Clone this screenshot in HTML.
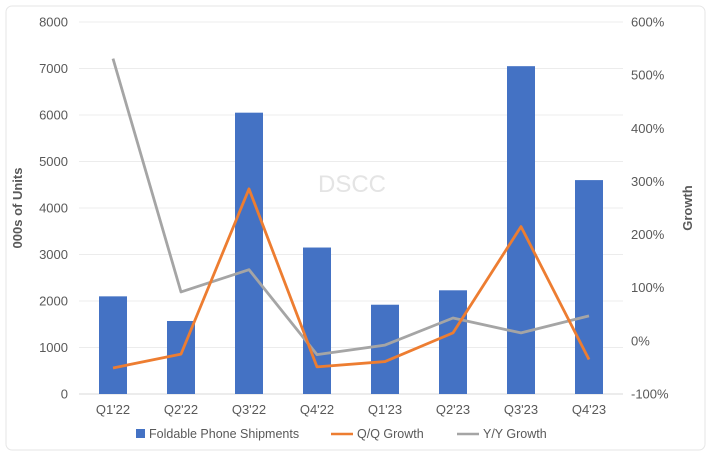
<!DOCTYPE html>
<html><head><meta charset="utf-8"><style>
body{margin:0;background:#fff;font-family:"Liberation Sans",sans-serif;}
svg text{font-family:"Liberation Sans",sans-serif;fill:#595959;}
</style></head><body>
<svg id="chart" width="711" height="456" xmlns="http://www.w3.org/2000/svg">
<rect x="6" y="6" width="699" height="444" rx="6" fill="#fff" stroke="#e6e6e6"/>
<text x="352" y="192" font-size="24" text-anchor="middle" style="fill:#e4e4e4">DSCC</text>
<g id="grid"></g><g id="bars"></g><g id="lines"></g><g id="axes"></g>
<text transform="translate(22,208) rotate(-90)" font-size="13" font-weight="bold" text-anchor="middle">000s of Units</text>
<text transform="translate(692,208) rotate(-90)" font-size="13" font-weight="bold" text-anchor="middle">Growth</text>
<g>
<rect x="136" y="429" width="9" height="9" fill="#4472c4"/>
<text x="149" y="438" font-size="12.5">Foldable Phone Shipments</text>
<line x1="331" y1="434" x2="353" y2="434" stroke="#ed7d31" stroke-width="2.5"/>
<text x="357" y="438" font-size="12.5">Q/Q Growth</text>
<line x1="457" y1="434" x2="479" y2="434" stroke="#a5a5a5" stroke-width="2.5"/>
<text x="483" y="438" font-size="12.5">Y/Y Growth</text>
</g>
</svg>
<script>
const categories=["Q1'22","Q2'22","Q3'22","Q4'22","Q1'23","Q2'23","Q3'23","Q4'23"];
const shipments=[2100,1570,6050,3150,1920,2230,7050,4600];
const qqGrowth=[-51,-25,286,-49,-39,15,215,-35];
const yyGrowth=[531,92,134,-26,-8,43,15,47];
const leftTicks=[0,1000,2000,3000,4000,5000,6000,7000,8000];
const rightTicks=[-100,0,100,200,300,400,500,600];
const NS="http://www.w3.org/2000/svg";
const X0=79,X1=623,Y0=394,Y1=22;
const bw=(X1-X0)/categories.length;
const xc=i=>X0+bw*(i+0.5);
const yL=v=>Y0-(v/8000)*(Y0-Y1);
const yR=v=>Y0-((v+100)/700)*(Y0-Y1);
function mk(tag,attrs,parent){const e=document.createElementNS(NS,tag);for(const k in attrs)e.setAttribute(k,attrs[k]);document.getElementById(parent).appendChild(e);return e;}
leftTicks.forEach(t=>{
 const g=mk('line',{x1:X0,x2:X1,y1:yL(t),y2:yL(t),stroke:t===0?'#d9d9d9':'#ececec'},'grid');
 
 
 const tx=mk('text',{x:X0-11,y:yL(t)+4.5,'font-size':13,'text-anchor':'end'},'axes');tx.textContent=t;
 
 
});
rightTicks.forEach(t=>{
 const tx=mk('text',{x:X1+8,y:yR(t)+4.5,'font-size':13,'text-anchor':'start'},'axes');tx.textContent=t+'%';
 
 
});
categories.forEach((c,i)=>{
 const tx=mk('text',{x:xc(i),y:414,'font-size':13,'text-anchor':'middle'},'axes');tx.textContent=c;
 
 
 const b=mk('rect',{x:xc(i)-14,y:yL(shipments[i]),width:28,height:Y0-yL(shipments[i]),fill:'#4472c4'},'bars');
 
 
});
const yy=mk('polyline',{points:yyGrowth.map((v,i)=>xc(i)+','+yR(v)).join(' '),fill:'none',stroke:'#a5a5a5','stroke-width':2.8,'stroke-linejoin':'round'},'lines');


const qq=mk('polyline',{points:qqGrowth.map((v,i)=>xc(i)+','+yR(v)).join(' '),fill:'none',stroke:'#ed7d31','stroke-width':2.8,'stroke-linejoin':'round'},'lines');


</script>
</body></html>
